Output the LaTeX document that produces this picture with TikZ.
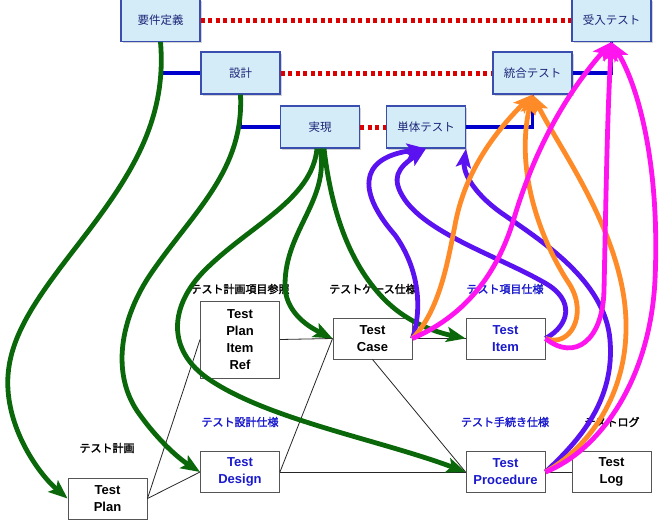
\documentclass[tikz,border=0pt]{standalone}
\usepackage{fontspec}
\setmainfont{Liberation Sans}
\newfontfamily\jpfont{Noto Sans CJK JP}
\newfontfamily\jpbold{Noto Sans CJK JP}[FakeBold=2]
\usetikzlibrary{arrows.meta,shadows}
\definecolor{PhaseFill}{HTML}{D4ECF8}
\definecolor{PhaseBorder}{HTML}{3A4EB0}
\definecolor{PhaseText}{HTML}{1C2478}
\definecolor{LevelBlue}{HTML}{0000CC}
\definecolor{PairRed}{HTML}{DD0000}
\definecolor{DocBlue}{HTML}{1A1ACC}
\definecolor{DocBorder}{HTML}{555555}
\definecolor{Leaf}{HTML}{0A680A}
\definecolor{Violet}{HTML}{5A12F0}
\definecolor{Amber}{HTML}{FF8A28}
\definecolor{Pink}{HTML}{FF14F0}

\begin{document}
\begin{tikzpicture}[x=1pt, y=-1pt,
  phase/.style={draw=PhaseBorder, fill=PhaseFill, line width=1.1pt,
    minimum width=79pt, minimum height=42pt, inner sep=0pt,
    font=\jpfont\fontsize{11.5}{13}\selectfont, text=PhaseText,
    drop shadow={shadow xshift=1.5pt, shadow yshift=-1.5pt, opacity=.35}},
  doc/.style={draw=DocBorder, fill=white, line width=0.9pt,
    minimum width=79pt, minimum height=41pt, inner sep=0pt, align=center,
    font=\bfseries\fontsize{13}{17}\selectfont},
  lbl/.style={font=\jpbold\fontsize{11}{13}\selectfont},
  level/.style={draw=LevelBlue, line width=3.5pt},
  pair/.style={draw=PairRed, line width=5pt, dash pattern=on 4pt off 3.5pt},
  link/.style={draw=black!85, line width=0.8pt},
  flow/.style={line width=4.8pt, -{Stealth[length=19pt,width=15pt,inset=4pt]}},
]
\useasboundingbox (0,0) rectangle (668,519);

% V-model phases
\node[phase] (req) at (160.5,20.5) {要件定義};
\node[phase] (des) at (240.5,73) {設計};
\node[phase] (impl) at (320,127) {実現};
\node[phase] (unit) at (426,127) {単体テスト};
\node[phase] (integ) at (532.5,73) {統合テスト};
\node[phase] (acc) at (611.5,20.5) {受入テスト};

% levels
\draw[level] (req.south) |- (des.west);
\draw[level] (des.south) |- (impl.west);
\draw[level] (unit.east) -| (integ.south);
\draw[level] (integ.east) -| (acc.south);

% verification pairs
\draw[pair] (req.east) -- (acc.west);
\draw[pair] (des.east) -- (integ.west);
\draw[pair] (impl.east) -- (unit.west);

% test documents
\node[doc, minimum height=77pt] (tpir) at (240,339.5) {Test\\Plan\\Item\\Ref};
\node[doc] (tcase) at (372.5,338.5) {Test\\Case};
\node[doc, text=DocBlue] (titem) at (505.5,338.5) {Test\\Item};
\node[doc, text=DocBlue] (tdes) at (240,472) {Test\\Design};
\node[doc, text=DocBlue] (tproc) at (505.5,472) {Test\\Procedure};
\node[doc] (tlog) at (611.5,472) {Test\\Log};
\node[doc] (tplan) at (107.5,498.5) {Test\\Plan};

% document names
\node[lbl] (nref) at (240,289) {テスト計画項目参照};
\node[lbl] (ncase) at (373,289) {テストケース仕様};
\node[lbl, text=DocBlue] (nitem) at (505,289) {テスト項目仕様};
\node[lbl, text=DocBlue] (ndes) at (240,422) {テスト設計仕様};
\node[lbl] (nplan) at (107,448) {テスト計画};
\node[lbl, text=DocBlue] (nproc) at (505,422) {テスト手続き仕様};
\node[lbl] (nlog) at (612,422) {テストログ};

% relations
\draw[link] (tplan.east) -- (tpir.west);
\draw[link] (tplan.east) -- (tdes.west);
\draw[link] (tpir.east) -- (tcase.west);
\draw[link] (tdes.east) -- (tcase.west);
\draw[link] (tdes.east) -- (tproc.west);
\draw[link] (tcase.south) -- (tproc.west);
\draw[link] (tcase.east) -- (titem.west);
\draw[link] (tproc.east) -- (tlog.west);

% design side
\draw[flow, Leaf] (req.south) .. controls (168,130) and (120,190) .. (70,255)
  .. controls (30,307) and (5,345) .. (8,390) .. controls (11,435) and (40,475) .. (tplan.west);
\draw[flow, Leaf] (des.south) .. controls (244,170) and (195,210) .. (152,272)
  .. controls (120,318) and (110,375) .. (140,415) .. controls (158,440) and (178,458) .. (tdes.west);
\draw[flow, Leaf] ([xshift=-3pt]impl.south) .. controls (312,200) and (250,225) .. (205,270)
  .. controls (170,305) and (165,350) .. (210,380) .. controls (270,420) and (380,440) .. (tproc.west);
\draw[flow, Leaf] (impl.south) .. controls (330,200) and (285,230) .. (285,285)
  .. controls (285,310) and (305,325) .. (tcase.west);
\draw[flow, Leaf] ([xshift=4pt]impl.south) .. controls (330,200) and (345,260) .. (385,300)
  .. controls (410,325) and (440,333) .. (titem.west);

% unit test
\draw[flow, Violet] (tcase.east) .. controls (422,310) and (420,270) .. (395,235)
  .. controls (360,195) and (355,158) .. (unit.south);
\draw[flow, Violet] (titem.east) .. controls (570,325) and (575,300) .. (545,283)
  .. controls (500,257) and (430,235) .. (405,200) .. controls (390,178) and (398,168) .. (unit.south);
\draw[flow, Violet] (tproc.east) .. controls (580,440) and (615,400) .. (610,340)
  .. controls (605,280) and (540,240) .. (500,212) .. controls (470,190) and (463,170) .. (unit.south east);

% integration test
\draw[flow, Amber] (tcase.east) .. controls (440,310) and (448,260) .. (455,225)
  .. controls (465,170) and (497,130) .. (integ.south);
\draw[flow, Amber] (titem.east) .. controls (570,348) and (588,315) .. (570,285)
  .. controls (540,240) and (515,170) .. (integ.south);
\draw[flow, Amber] (tproc.east) .. controls (585,450) and (625,400) .. (626,330)
  .. controls (628,240) and (560,150) .. (integ.south);

% acceptance test
\draw[flow, Pink] (tcase.east) .. controls (455,320) and (495,285) .. (515,215)
  .. controls (535,150) and (565,95) .. (acc.south);
\draw[flow, Pink] (titem.east) .. controls (575,362) and (603,340) .. (604,290)
  .. controls (606,200) and (607,120) .. (acc.south);
\draw[flow, Pink] (tproc.east) .. controls (600,450) and (650,380) .. (655,280)
  .. controls (660,170) and (640,90) .. (acc.south);

\end{tikzpicture}
\end{document}
